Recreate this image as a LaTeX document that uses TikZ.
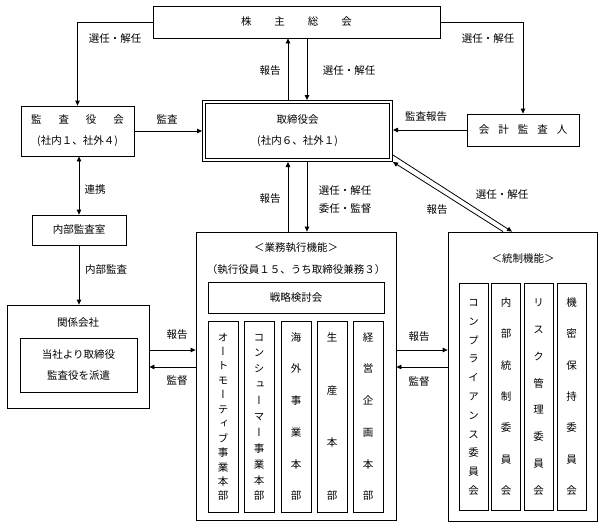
\documentclass[tikz,border=0pt]{standalone}
\usepackage{fontspec}
\setmainfont{Noto Sans CJK JP}
\newfontfamily\vjp[RawFeature=+vert]{Noto Sans CJK JP}
\usetikzlibrary{arrows.meta}
\newcommand\fs{\fontsize{10.5}{21}\selectfont}
\makeatletter
\newcommand\vstack[2]{\vbox to #1{\offinterlineskip\vjp\let\vs@sep\relax
  \@tfor\vs@c:=#2\do{\vs@sep\hbox to 1em{\hss\rule[-.12em]{0pt}{1em}\vs@c\hss}\let\vs@sep\vfill}}}
\makeatother
\tikzset{
  box/.style={draw, line width=0.8pt, inner sep=0pt, align=center, font=\fs},
  colbox/.style={draw, line width=0.8pt, inner sep=0pt, minimum width=30pt, font=\fs},
  lbl/.style={inner sep=1pt, font=\fs},
  tip/.style={Triangle[length=5pt,width=4.5pt]},
  arr/.style={line width=0.8pt, -{Triangle[length=5pt,width=4.5pt]}},
  darr/.style={line width=0.8pt, {Triangle[length=5pt,width=4.5pt]}-{Triangle[length=5pt,width=4.5pt]}},
}
\begin{document}
\begin{tikzpicture}[x=1pt,y=-1pt]
\useasboundingbox[fill=white] (0,0) rectangle (605,528);
% boxes
\node[box, minimum width=287pt, minimum height=32pt] (kabu) at (296.5,22)
  {株\hspace{23pt}主\hspace{23pt}総\hspace{23pt}会};
\node[box, minimum width=113pt, minimum height=50pt] (kansa) at (77.5,131)
  {監\hspace{17pt}査\hspace{17pt}役\hspace{17pt}会\\(社内１、社外４)};
\node[box, double, double distance=2pt, outer sep=1.8pt, minimum width=187.4pt, minimum height=58.4pt] (tori) at (297.5,131)
  {取締役会\\(社内６、社外１)};
\node[box, minimum width=112pt, minimum height=32pt] (kaikei) at (523,130)
  {会\hspace{9pt}計\hspace{9pt}監\hspace{9pt}査\hspace{9pt}人};
\node[box, minimum width=94pt, minimum height=30pt] (naibu) at (79,230) {内部監査室};
\node[box, minimum width=142pt, minimum height=103pt] (kankei) at (78,356.5) {};
\node[lbl] (kankeit) at (78,323) {関係会社};
\node[box, minimum width=117pt, minimum height=54pt] (haken) at (78.5,365)
  {\fontsize{10.5}{25}\selectfont 当社より取締役\\監査役を派遣};
% business execution
\node[box, minimum width=200pt, minimum height=288pt] (gyomu) at (296,376) {};
\node[lbl] (gyomut) at (296,248) {＜業務執行機能＞};
\node[lbl] (gyomus) at (296,270) {（執行役員１５、うち取締役兼務３）};
\node[box, minimum width=176pt, minimum height=31pt] (senryaku) at (296,297.5) {戦略検討会};
\node[colbox, minimum height=191pt] (g1) at (223,416.5) {\vstack{168pt}{オートモーティブ事業本部}};
\node[colbox, minimum height=191pt] (g2) at (259,416.5) {\vstack{168pt}{コンシューマー事業本部}};
\node[colbox, minimum height=191pt] (g3) at (296,416.5) {\vstack{168pt}{海外事業本部}};
\node[colbox, minimum height=191pt] (g4) at (332,416.5) {\vstack{168pt}{生産本部}};
\node[colbox, minimum height=191pt] (g5) at (368,416.5) {\vstack{168pt}{経営企画本部}};
% control
\node[box, minimum width=149pt, minimum height=289pt] (tosei) at (522.5,376.5) {};
\node[lbl] (toseit) at (523,259) {＜統制機能＞};
\node[colbox, minimum width=29pt, minimum height=227pt] (t1) at (473.5,396.5) {\vstack{197pt}{コンプライアンス委員会}};
\node[colbox, minimum width=29pt, minimum height=227pt] (t2) at (506,396.5) {\vstack{197pt}{内部統制委員会}};
\node[colbox, minimum width=29pt, minimum height=227pt] (t3) at (538.5,396.5) {\vstack{197pt}{リスク管理委員会}};
\node[colbox, minimum width=29pt, minimum height=227pt] (t4) at (571.5,396.5) {\vstack{197pt}{機密保持委員会}};
% connectors
\draw[arr] (kabu.west) -| (kansa.north);
\draw[arr] (kabu.east) -| (kaikei.north);
\draw[arr] ([xshift=-9.5pt]tori.north) -- ([xshift=-9.5pt]tori.north |- kabu.south);
\draw[arr] ([xshift=9.5pt]tori.north |- kabu.south) -- ([xshift=9.5pt]tori.north);
\draw[arr] (kansa.east) -- (kansa.east -| tori.west);
\draw[arr] (kaikei.west) -- (kaikei.west -| tori.east);
\draw[darr] (naibu.north |- kansa.south) -- (naibu.north);
\draw[arr] (naibu.south) -- (naibu.south |- kankei.north);
\draw[arr] ([xshift=-9.5pt]tori.south |- gyomu.north) -- ([xshift=-9.5pt]tori.south);
\draw[arr] ([xshift=9.5pt]tori.south) -- ([xshift=9.5pt]tori.south |- gyomu.north);
\draw[arr] ([yshift=6.5pt]kankei.east) -- ([yshift=6.5pt]kankei.east -| gyomu.west);
\draw[arr] ([yshift=-10.5pt]kankei.east -| gyomu.west) -- ([yshift=-10.5pt]kankei.east);
\draw[arr] ([yshift=6.5pt]kankei.east -| gyomu.east) -- ([yshift=6.5pt]kankei.east -| tosei.west);
\draw[arr] ([yshift=-10.5pt]kankei.east -| tosei.west) -- ([yshift=-10.5pt]kankei.east -| gyomu.east);
\draw[arr] ([yshift=7pt]tori.south east) -- ([xshift=-10.5pt]tosei.north);
\draw[arr] ([xshift=-19.5pt]tosei.north) -- (tori.south east);
% labels
\node[lbl] (l1) at (115,39) {選任・解任};
\node[lbl] (l2) at (488,39) {選任・解任};
\node[lbl] (l3) at (270,71) {報告};
\node[lbl] (l4) at (349,71) {選任・解任};
\node[lbl] (l5) at (167,119) {監査};
\node[lbl] (l6) at (426,117) {監査報告};
\node[lbl] (l7) at (95,190) {連携};
\node[lbl] (l8) at (106,270) {内部監査};
\node[lbl] (l9) at (270,199) {報告};
\node[lbl] (l10) at (345,191) {選任・解任};
\node[lbl] (l11) at (345,209) {委任・監督};
\node[lbl] (l12) at (437,210) {報告};
\node[lbl] (l13) at (502,195) {選任・解任};
\node[lbl] (l14) at (177,335) {報告};
\node[lbl] (l15) at (177,381) {監督};
\node[lbl] (l16) at (419,337) {報告};
\node[lbl] (l17) at (419,382) {監督};
\end{tikzpicture}
\end{document}
